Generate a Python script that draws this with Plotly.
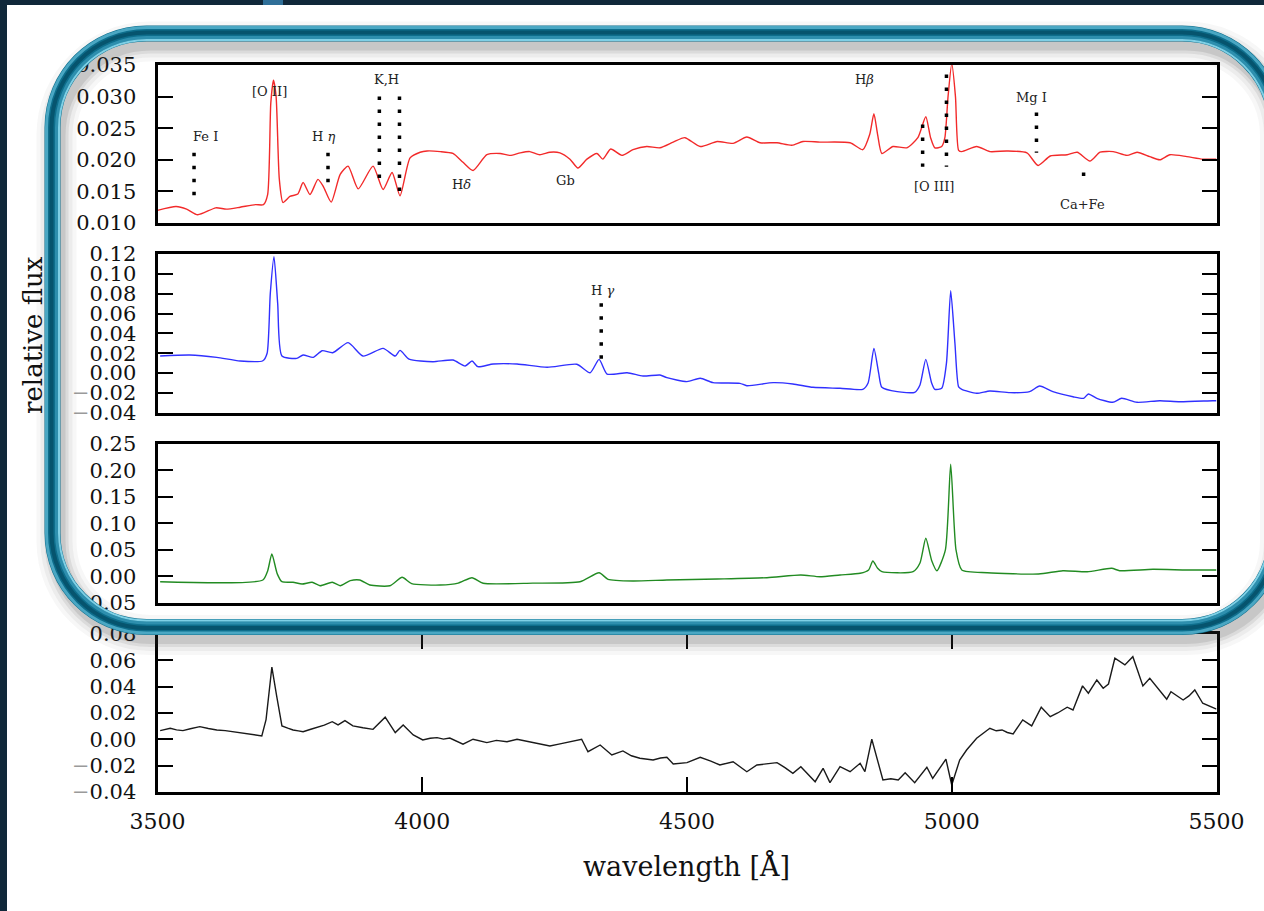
import plotly.graph_objects as go

W, H = 1264, 911

# ---------------- data ----------------
wl_red = [3500, 3535, 3555, 3576, 3610, 3630, 3656, 3685, 3700, 3708, 3714, 3719, 3724, 3730, 3737,
          3750, 3765, 3775, 3788, 3803, 3813, 3828, 3845, 3860, 3879, 3907, 3926, 3943, 3958, 3977,
          3996, 4009, 4034, 4058, 4077, 4096, 4122, 4147, 4166, 4185, 4203, 4222, 4241, 4260, 4279,
          4294, 4311, 4330, 4341, 4356, 4377, 4398, 4424, 4449, 4474, 4496, 4525, 4557, 4587, 4613,
          4638, 4670, 4698, 4719, 4751, 4808, 4832, 4845, 4853, 4860, 4868, 4889, 4915, 4936, 4951,
          4960, 4968, 4981, 4987, 4993, 5000, 5007, 5013, 5019, 5047, 5072, 5104, 5142, 5163, 5186,
          5218, 5237, 5261, 5280, 5305, 5331, 5350, 5374, 5393, 5412, 5444, 5474, 5500]
flux_red = [0.0120, 0.0126, 0.0122, 0.0113, 0.0124, 0.0122, 0.0125, 0.0129, 0.0129, 0.0145, 0.0290,
            0.0326, 0.0300, 0.0170, 0.01325, 0.0142, 0.0146, 0.0164, 0.0145, 0.0169, 0.0158, 0.0133,
            0.0177, 0.0190, 0.0154, 0.0190, 0.0153, 0.0180, 0.0143, 0.0203, 0.0212, 0.0214, 0.0213,
            0.0210, 0.0196, 0.0183, 0.0208, 0.0210, 0.0207, 0.0211, 0.0213, 0.0208, 0.0212, 0.0211,
            0.0201, 0.0187, 0.0201, 0.0210, 0.0201, 0.0217, 0.0207, 0.0216, 0.0221, 0.0219, 0.0228,
            0.0235, 0.0221, 0.0229, 0.0226, 0.0236, 0.0227, 0.0227, 0.0223, 0.0229, 0.0228, 0.0227,
            0.0216, 0.0240, 0.0273, 0.0240, 0.0210, 0.0221, 0.0219, 0.0235, 0.0268, 0.0235, 0.0219,
            0.0221, 0.0235, 0.0300, 0.0352, 0.0300, 0.0215, 0.0213, 0.0221, 0.0213, 0.0214, 0.0211,
            0.0191, 0.0206, 0.0208, 0.0212, 0.0198, 0.0212, 0.0213, 0.0207, 0.0212, 0.0205, 0.0200,
            0.0208, 0.0205, 0.0201, 0.0201]

wl_blue = [3505, 3561, 3612, 3656, 3699, 3707, 3713, 3720, 3727, 3735, 3763, 3775, 3794, 3811, 3831,
           3860, 3888, 3926, 3949, 3958, 3975, 4020, 4058, 4081, 4094, 4105, 4134, 4179, 4236, 4292,
           4317, 4334, 4349, 4387, 4417, 4449, 4462, 4500, 4525, 4549, 4600, 4613, 4663, 4700, 4738,
           4789, 4832, 4842, 4853, 4862, 4868, 4897, 4930, 4940, 4951, 4962, 4968, 4981, 4990, 4998,
           5006, 5013, 5019, 5047, 5072, 5110, 5147, 5166, 5191, 5229, 5249, 5258, 5274, 5304, 5321,
           5350, 5393, 5431, 5493, 5500]
flux_blue = [0.0171, 0.0182, 0.0158, 0.0121, 0.0124, 0.0200, 0.0800, 0.1173, 0.0700, 0.0171, 0.0148,
             0.0182, 0.0158, 0.0225, 0.0205, 0.0306, 0.0171, 0.0249, 0.0171, 0.0228, 0.0140, 0.0114,
             0.0131, 0.0071, 0.0121, 0.0064, 0.0091, 0.0091, 0.0058, 0.0088, 0.0003, 0.0138, -0.0010,
             0.0003, -0.0030, -0.0020, -0.0047, -0.0087, -0.0053, -0.0097, -0.0104, -0.0128, -0.0097,
             -0.0110, -0.0144, -0.0154, -0.0164, -0.0100, 0.0249, 0.0000, -0.0144, -0.0188, -0.0194,
             -0.0120, 0.0138, -0.0100, -0.0164, -0.0154, 0.0100, 0.0830, 0.0300, -0.0140, -0.0164,
             -0.0204, -0.0181, -0.0198, -0.0188, -0.0131, -0.0188, -0.0239, -0.0255, -0.0211, -0.0255,
             -0.0295, -0.0255, -0.0295, -0.0279, -0.0289, -0.0279, -0.0279]

wl_green = [3505, 3699, 3708, 3716, 3726, 3735, 3756, 3773, 3792, 3807, 3830, 3845, 3864, 3882, 3901,
            3939, 3962, 3980, 4034, 4068, 4094, 4115, 4209, 4298, 4334, 4351, 4398, 4462, 4557, 4651,
            4715, 4751, 4789, 4827, 4843, 4851, 4860, 4868, 4927, 4940, 4951, 4962, 4972, 4988, 4998,
            5008, 5019, 5067, 5164, 5210, 5256, 5302, 5317, 5380, 5444, 5500]
flux_green = [-0.0103, -0.0071, 0.0100, 0.0420, 0.0050, -0.0103, -0.0114, -0.0147, -0.0114, -0.0179,
              -0.0114, -0.0179, -0.0084, -0.0071, -0.0166, -0.0179, -0.0020, -0.0140, -0.0166, -0.0130,
              -0.0027, -0.0133, -0.0130, -0.0103, 0.0067, -0.0058, -0.0090, -0.0070, -0.0052, -0.0027,
              0.0024, -0.0009, 0.0024, 0.0056, 0.0120, 0.0288, 0.0150, 0.0086, 0.0086, 0.0250, 0.0717,
              0.0300, 0.0105, 0.0500, 0.2116, 0.0500, 0.0118, 0.0067, 0.0042, 0.0105, 0.0086, 0.0150,
              0.0105, 0.0131, 0.0118, 0.0118]

wl_black = [3505, 3515, 3524, 3536, 3548, 3562, 3580, 3596, 3612, 3628, 3643, 3656, 3669, 3684, 3697,
            3705, 3716, 3725, 3735, 3746, 3756, 3766, 3775, 3788, 3801, 3815, 3830, 3841, 3854, 3869,
            3888, 3907, 3930, 3949, 3964, 3983, 4001, 4015, 4028, 4040, 4052, 4064, 4077, 4096, 4110,
            4122, 4140, 4160, 4179, 4195, 4209, 4225, 4241, 4258, 4273, 4290, 4301, 4313, 4336, 4358,
            4379, 4395, 4411, 4436, 4450, 4462, 4474, 4500, 4525, 4545, 4562, 4587, 4600, 4613, 4632,
            4650, 4670, 4685, 4700, 4715, 4742, 4757, 4770, 4789, 4808, 4827, 4836, 4849, 4870, 4885,
            4899, 4912, 4930, 4953, 4964, 4989, 5000, 5015, 5028, 5047, 5060, 5072, 5084, 5095, 5105,
            5116, 5134, 5151, 5169, 5186, 5200, 5218, 5229, 5247, 5258, 5274, 5286, 5296, 5308, 5318,
            5327, 5342, 5361, 5374, 5390, 5406, 5414, 5426, 5437, 5448, 5459, 5474, 5485, 5497, 5500]
flux_black = [0.0066, 0.0078, 0.0084, 0.0072, 0.0066, 0.0080, 0.0096, 0.0082, 0.0071, 0.0066, 0.0058,
              0.0050, 0.0039, 0.0036, 0.0026, 0.0150, 0.0548, 0.0330, 0.0102, 0.0085, 0.0071, 0.0064,
              0.0058, 0.0075, 0.0092, 0.0108, 0.0134, 0.0110, 0.0142, 0.0102, 0.0088, 0.0076, 0.0168,
              0.0051, 0.0109, 0.0033, -0.0005, 0.0008, 0.0013, 0.0002, 0.0010, -0.0012, -0.0037, 0.0001,
              -0.0015, -0.0025, -0.0008, -0.0018, 0.0001, -0.0012, -0.0025, -0.0038, -0.0050, -0.0036,
              -0.0025, -0.0010, 0.0001, -0.0094, -0.0043, -0.0119, -0.0088, -0.0125, -0.0144, -0.0157,
              -0.0142, -0.0136, -0.0187, -0.0177, -0.0136, -0.0165, -0.0195, -0.0170, -0.0205, -0.0246,
              -0.0195, -0.0185, -0.0177, -0.0215, -0.0258, -0.0208, -0.0322, -0.0220, -0.0329, -0.0208,
              -0.0246, -0.0182, -0.0246, 0.0001, -0.0309, -0.0300, -0.0309, -0.0253, -0.0329, -0.0212,
              -0.0296, -0.0151, -0.0347, -0.0157, -0.0081, 0.0008, 0.0050, 0.0084, 0.0065, 0.0071,
              0.0052, 0.0041, 0.0147, 0.0102, 0.0244, 0.0172, 0.0200, 0.0244, 0.0223, 0.0406, 0.0350,
              0.0451, 0.0388, 0.0420, 0.0616, 0.0590, 0.0565, 0.0628, 0.0406, 0.0464, 0.0380, 0.0305,
              0.0362, 0.0330, 0.0299, 0.0330, 0.0375, 0.0274, 0.0255, 0.0236, 0.0230]

x_ticks = [3500, 4000, 4500, 5000, 5500]
y_ticks_red = [0.010, 0.015, 0.020, 0.025, 0.030, 0.035]
y_ticks_blue = [-0.04, -0.02, 0.00, 0.02, 0.04, 0.06, 0.08, 0.10, 0.12]
y_ticks_green = [-0.05, 0.00, 0.05, 0.10, 0.15, 0.20, 0.25]
y_ticks_black = [-0.04, -0.02, 0.00, 0.02, 0.04, 0.06, 0.08]

# spectral line markers (panel 1)
mark_wl = [3569, 3822, 3919, 3957, 4945, 4990, 5160, 5249]
mark_top = [0.0211, 0.0211, 0.0300, 0.0300, 0.0256, 0.0335, 0.0275, 0.0180]
mark_bottom = [0.0132, 0.0150, 0.0164, 0.0142, 0.0189, 0.0189, 0.0211, 0.0162]
label_text = ["Fe I", "[O II]", "H <i>η</i>", "K,H", "H<i>δ</i>", "Gb", "H<i>β</i>", "[O III]", "Mg I", "Ca+Fe"]
label_wl = [3590, 3711, 3813, 3932, 4075, 4271, 4836, 4967, 5150, 5246]
label_flux = [0.0237, 0.0308, 0.0237, 0.0327, 0.0161, 0.0167, 0.0327, 0.0158, 0.0299, 0.0129]
# panel 2 marker
hg_wl = [4338]
hg_top = [0.0703]
hg_bottom = [0.0098]
hg_label = ["H <i>γ</i>"]
hg_label_wl = [4340]
hg_label_flux = [0.0837]

# ---------------- figure ----------------
SERIF = "DejaVu Serif"
panels_px = [(65, 223), (254, 412.7), (444, 602.7), (634, 792)]
ranges = [(0.010, 0.035), (-0.04, 0.12), (-0.05, 0.25), (-0.04, 0.08)]
yticks = [y_ticks_red, y_ticks_blue, y_ticks_green, y_ticks_black]
decs = [3, 2, 2, 2]
series = [(wl_red, flux_red, "#f22a2a", "spline"), (wl_blue, flux_blue, "#3030ff", "spline"),
          (wl_green, flux_green, "#228b22", "spline"), (wl_black, flux_black, "#1a1a1a", "linear")]
xdom = [157.5 / W, 1216.5 / W]


def fmt(v, d):
    s = f"{abs(v):.{d}f}"
    if v < -1e-12:
        return '<span style="color:#9a9a9a">−</span>' + s
    return s


fig = go.Figure()
layout = {}
for i in range(4):
    sfx = "" if i == 0 else str(i + 1)
    wl, fl, col, shp = series[i]
    line = dict(color=col, width=1.4, shape=shp)
    if shp == "spline":
        line["smoothing"] = 0.6
    fig.add_trace(go.Scatter(x=wl, y=fl, mode="lines", line=line,
                             xaxis="x" + sfx, yaxis="y" + sfx, hoverinfo="skip"))
    top, bot = panels_px[i]
    bottom_panel = i == 3
    layout["xaxis" + sfx] = dict(
        domain=xdom, range=[3500, 5500], anchor="y" + sfx, automargin=False,
        showline=True, linecolor="black", linewidth=3, mirror="ticks" if bottom_panel else True,
        showgrid=False, zeroline=False,
        ticks="inside" if bottom_panel else "", ticklen=15, tickwidth=2, tickcolor="black",
        tickvals=x_ticks, ticktext=[str(v) for v in x_ticks],
        showticklabels=bottom_panel, ticklabelstandoff=8,
        tickfont=dict(family=SERIF, size=22, color="#111"),
        **({} if i == 0 else {"matches": "x"}))
    layout["yaxis" + sfx] = dict(
        domain=[1 - bot / H, 1 - top / H], range=list(ranges[i]), anchor="x" + sfx, automargin=False,
        showline=True, linecolor="black", linewidth=3, mirror="ticks",
        showgrid=False, zeroline=False,
        ticks="inside", ticklen=15, tickwidth=2, tickcolor="black",
        tickvals=yticks[i], ticktext=[fmt(v, decs[i]) for v in yticks[i]],
        ticklabelstandoff=14,
        tickfont=dict(family=SERIF, size=21, color="#111"))

# dotted marker lines
DOT = dict(color="black", width=3.5, dash="3.5px,9.5px")
for w, t, b in zip(mark_wl, mark_top, mark_bottom):
    fig.add_trace(go.Scatter(x=[w, w], y=[t, b], mode="lines", line=DOT,
                             xaxis="x", yaxis="y", hoverinfo="skip"))
for w, t, b in zip(hg_wl, hg_top, hg_bottom):
    fig.add_trace(go.Scatter(x=[w, w], y=[t, b], mode="lines", line=DOT,
                             xaxis="x2", yaxis="y2", hoverinfo="skip"))

annotations = []
for txt, w, f in zip(label_text, label_wl, label_flux):
    annotations.append(dict(x=w, y=f, xref="x", yref="y", text=txt, showarrow=False,
                            font=dict(family=SERIF, size=13, color="#222")))
for txt, w, f in zip(hg_label, hg_label_wl, hg_label_flux):
    annotations.append(dict(x=w, y=f, xref="x2", yref="y2", text=txt, showarrow=False,
                            font=dict(family=SERIF, size=13, color="#222")))
annotations.append(dict(x=33 / W, y=1 - 335 / H, xref="paper", yref="paper", text="relative flux",
                        xanchor="center", yanchor="middle",
                        textangle=-90, showarrow=False, font=dict(family=SERIF, size=26, color="#111")))
annotations.append(dict(x=686 / W, y=1 - 866 / H, xref="paper", yref="paper", text="wavelength [Å]",
                        xanchor="center", yanchor="middle",
                        showarrow=False, font=dict(family=SERIF, size=27, color="#111")))


# ---- decorative slide frame (pixel geometry -> paper coords) ----
def P(px, py):
    return f"{px / W:.5f},{1 - py / H:.5f}"


def rrect(l, t, r, b, rad):
    k = 0.5523 * rad
    return ("M " + P(l + rad, t) + " L " + P(r - rad, t) +
            " C " + P(r - rad + k, t) + " " + P(r, t + rad - k) + " " + P(r, t + rad) +
            " L " + P(r, b - rad) +
            " C " + P(r, b - rad + k) + " " + P(r - rad + k, b) + " " + P(r - rad, b) +
            " L " + P(l + rad, b) +
            " C " + P(l + rad - k, b) + " " + P(l, b - rad + k) + " " + P(l, b - rad) +
            " L " + P(l, t + rad) +
            " C " + P(l, t + rad - k) + " " + P(l + rad - k, t) + " " + P(l + rad, t) + " Z")


L, T, R, B, RAD = 52.5, 33.5, 1276, 627, 94
shapes = []
# drop shadow
for wdt, alpha in [(40, 0.04), (32, 0.06), (24, 0.09), (18, 0.12)]:
    shapes.append(dict(type="path", xref="paper", yref="paper", layer="above",
                       path=rrect(L + 4, T + 8, R + 4, B + 8, RAD),
                       line=dict(color=f"rgba(60,60,60,{alpha})", width=wdt)))
# band
shapes.append(dict(type="path", xref="paper", yref="paper", layer="above",
                   path=rrect(L, T, R, B, RAD), line=dict(color="#0e6e8c", width=16)))
shapes.append(dict(type="path", xref="paper", yref="paper", layer="above",
                   path=rrect(L - 6, T - 6, R + 6, B + 6, RAD + 6), line=dict(color="#4aa7c3", width=3)))
shapes.append(dict(type="path", xref="paper", yref="paper", layer="above",
                   path=rrect(L + 4, T + 4, R - 4, B - 4, RAD - 4), line=dict(color="#2e8fae", width=3)))
shapes.append(dict(type="path", xref="paper", yref="paper", layer="above",
                   path=rrect(L + 6.5, T + 6.5, R - 6.5, B - 6.5, RAD - 6.5), line=dict(color="#7fd0e6", width=2)))
shapes.append(dict(type="path", xref="paper", yref="paper", layer="above",
                   path=rrect(L - 1, T - 1, R + 1, B + 1, RAD + 1), line=dict(color="#06546e", width=4)))
# dark slide background edges
shapes.append(dict(type="rect", xref="paper", yref="paper", layer="above", x0=0, x1=1,
                   y0=1 - 5 / H, y1=1, fillcolor="#10283a", line=dict(width=0)))
shapes.append(dict(type="rect", xref="paper", yref="paper", layer="above", x0=0, x1=7 / W,
                   y0=0, y1=1, fillcolor="#10283a", line=dict(width=0)))
shapes.append(dict(type="rect", xref="paper", yref="paper", layer="above", x0=263 / W, x1=283 / W,
                   y0=1 - 5 / H, y1=1, fillcolor="#2f6f98", line=dict(width=0)))

fig.update_layout(
    width=W, height=H, margin=dict(l=0, r=0, t=0, b=0, autoexpand=False),
    paper_bgcolor="white", plot_bgcolor="white",
    showlegend=False, hovermode=False,
    annotations=annotations, shapes=shapes, **layout)

fig.write_html("out.html", config={"displayModeBar": False},
               post_script="document.body.style.margin='0';document.body.style.overflow='hidden';")
